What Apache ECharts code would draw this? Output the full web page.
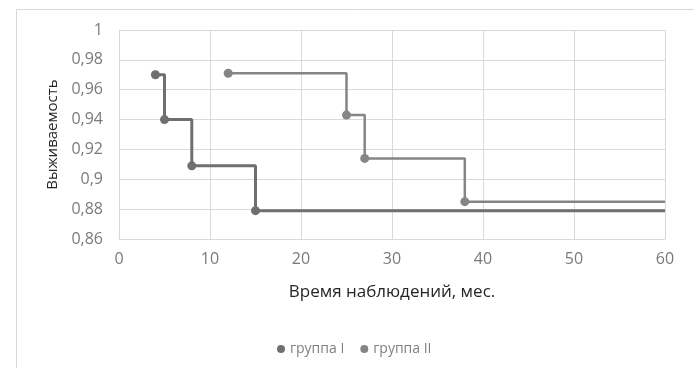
<!DOCTYPE html>
<html><head><meta charset="utf-8">
<script src="https://cdn.jsdelivr.net/npm/echarts@6/dist/echarts.min.js"></script>
<style>html,body{margin:0;padding:0;background:#fff}#c{width:694px;height:368px}</style>
</head><body><div id="c"></div>
<script>
var xTimes1 = [4, 5, 8, 15, 60];
var survival1 = [0.97, 0.94, 0.909, 0.879, 0.879];
var xTimes2 = [12, 25, 27, 38, 60];
var survival2 = [0.971, 0.943, 0.914, 0.885, 0.885];
var seriesNames = ['группа I', 'группа II'];
var xAxisTitle = 'Время наблюдений, мес.';
var yAxisTitle = 'Выживаемость';

function build(xs, ys) {
  return xs.map(function (x, i) {
    var d = { value: [x, ys[i]] };
    if (i === xs.length - 1) d.symbol = 'none';
    return d;
  });
}
var font = 'Open Sans, sans-serif';
var chart = echarts.init(document.getElementById('c'));
chart.setOption({
  animation: false,
  graphic: [{ type: 'rect', shape: { x: 16.5, y: 9.5, width: 700, height: 400 }, style: { fill: 'none', stroke: '#d9d9d9', lineWidth: 1 }, silent: true }],
  grid: { left: 119, right: 29, top: 30, bottom: 129 },
  legend: {
    data: seriesNames, left: 272, top: 337, icon: 'circle', itemWidth: 8, itemHeight: 8, itemGap: 16,
    textStyle: { color: '#7f7f7f', fontSize: 14, fontFamily: font }
  },
  xAxis: {
    type: 'value', min: 0, max: 60, interval: 10,
    name: xAxisTitle, nameLocation: 'middle', nameGap: 45,
    nameTextStyle: { color: '#262626', fontSize: 17, fontFamily: font },
    axisLine: { lineStyle: { color: '#d9d9d9' } }, axisTick: { show: false },
    axisLabel: { color: '#7a7a7a', fontSize: 16, fontFamily: font, margin: 12 },
    splitLine: { lineStyle: { color: '#d9d9d9' } }
  },
  yAxis: {
    type: 'value', min: 0.86, max: 1, interval: 0.02,
    name: yAxisTitle, nameLocation: 'middle', nameGap: 58,
    nameTextStyle: { color: '#262626', fontSize: 15, fontFamily: font },
    axisLine: { show: false }, axisTick: { show: false },
    axisLabel: { color: '#7a7a7a', fontSize: 16, fontFamily: font, margin: 16,
      formatter: function (v) { return String(Math.round(v * 100) / 100).replace('.', ','); } },
    splitLine: { lineStyle: { color: '#d9d9d9' } }
  },
  series: [
    { name: seriesNames[0], type: 'line', step: 'end', data: build(xTimes1, survival1),
      symbol: 'circle', symbolSize: 9, showAllSymbol: true,
      lineStyle: { color: '#6f6f6f', width: 3 }, itemStyle: { color: '#6f6f6f' } },
    { name: seriesNames[1], type: 'line', step: 'end', data: build(xTimes2, survival2),
      symbol: 'circle', symbolSize: 9, showAllSymbol: true,
      lineStyle: { color: '#858585', width: 2.5 }, itemStyle: { color: '#858585' } }
  ]
});
</script></body></html>
